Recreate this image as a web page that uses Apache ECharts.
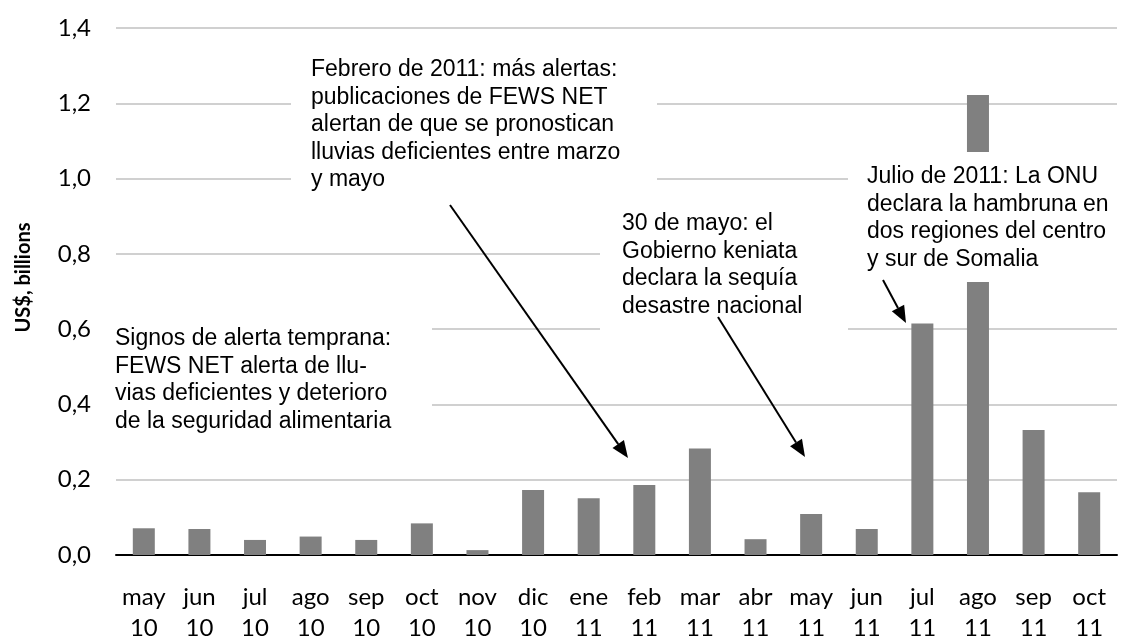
<!DOCTYPE html>
<html>
<head>
<meta charset="utf-8">
<script src="https://cdn.jsdelivr.net/npm/echarts@6/dist/echarts.min.js"></script>
<style>
  html, body { margin: 0; padding: 0; background: #fff; }
  #chart { width: 1122px; height: 639px; }
</style>
</head>
<body>
<div id="chart"></div>
<script>
const months = ['may', 'jun', 'jul', 'ago', 'sep', 'oct', 'nov', 'dic', 'ene', 'feb', 'mar', 'abr', 'may', 'jun', 'jul', 'ago', 'sep', 'oct'];
const years = ['10', '10', '10', '10', '10', '10', '10', '10', '11', '11', '11', '11', '11', '11', '11', '11', '11', '11'];
const spending = [0.071, 0.069, 0.040, 0.049, 0.040, 0.084, 0.013, 0.173, 0.151, 0.186, 0.283, 0.042, 0.109, 0.069, 0.615, 1.222, 0.332, 0.167];
const yTicks = [0, 0.2, 0.4, 0.6, 0.8, 1.0, 1.2, 1.4];

const noteFeb = 'Febrero de 2011: más alertas:\npublicaciones de FEWS NET\nalertan de que se pronostican\nlluvias deficientes entre marzo\ny mayo';
const noteEarly = 'Signos de alerta temprana:\nFEWS NET alerta de llu-\nvias deficientes y deterioro\nde la seguridad alimentaria';
const noteMay = '30 de mayo: el\nGobierno keniata\ndeclara la sequía\ndesastre nacional';
const noteJul = 'Julio de 2011: La ONU\ndeclara la hambruna en\ndos regiones del centro\ny sur de Somalia';

const categories = months.map((m, i) => m + '\n' + years[i]);

const textFont = 'Liberation Sans';
const axisFont = 'Lato';

// white box behind an annotation, hides the gridlines under it
function box(x, y, w, h) {
  return {
    type: 'rect', z: 100,
    shape: { x: x, y: y, width: w, height: h },
    style: { fill: '#fff' }
  };
}

function note(x, y, text) {
  return {
    type: 'text', z: 102, x: x, y: y,
    style: {
      text: text, fill: '#000',
      fontFamily: textFont, fontSize: 23,
      lineHeight: 27.5, align: 'left', verticalAlign: 'top'
    }
  };
}

function arrow(x1, y1, x2, y2) {
  const a = Math.atan2(y2 - y1, x2 - x1);
  const len = 17, half = 7;
  const bx = x2 - len * Math.cos(a);
  const by = y2 - len * Math.sin(a);
  const p1 = [bx + half * Math.sin(a), by - half * Math.cos(a)];
  const p2 = [bx - half * Math.sin(a), by + half * Math.cos(a)];
  return [
    { type: 'line', z: 103, shape: { x1: x1, y1: y1, x2: bx, y2: by }, style: { stroke: '#000', lineWidth: 2 } },
    { type: 'polygon', z: 103, shape: { points: [[x2, y2], p1, p2] }, style: { fill: '#000' } }
  ];
}

const chart = echarts.init(document.getElementById('chart'), null, { renderer: 'canvas' });

const option = {
  animation: false,
  backgroundColor: '#fff',
  grid: { left: 116, right: 5, top: 28, bottom: 84, outerBoundsMode: 'none', containLabel: false },
  xAxis: {
    type: 'category',
    data: categories,
    axisTick: { show: false },
    axisLine: { lineStyle: { color: '#000', width: 2 } },
    axisLabel: {
      color: '#000', fontFamily: axisFont, fontSize: 24,
      lineHeight: 31, margin: 27, interval: 0
    }
  },
  yAxis: {
    type: 'value',
    min: 0,
    max: yTicks[yTicks.length - 1],
    interval: 0.2,
    name: 'US$, billions',
    nameLocation: 'middle',
    nameGap: 82,
    nameTextStyle: {
      color: '#000', fontFamily: axisFont, fontWeight: 'bold', fontSize: 20,
      padding: [0, 0, 0, 28]
    },
    axisLine: { show: false },
    axisTick: { show: false },
    splitLine: { lineStyle: { color: '#c0c0c0', width: 1.5 } },
    axisLabel: {
      color: '#000', fontFamily: axisFont, fontSize: 24, margin: 25,
      formatter: (v) => v.toFixed(1).replace('.', ',')
    }
  },
  series: [{
    type: 'bar',
    data: spending,
    barWidth: 22,
    itemStyle: { color: '#808080' }
  }],
  graphic: [
    box(291, 45, 366, 150),
    box(100, 300, 332, 140),
    box(600, 195, 248, 148),
    box(848, 152, 274, 130),
    note(311, 56, noteFeb),
    note(115, 325, noteEarly),
    note(622, 210, noteMay),
    note(867, 163, noteJul),
    ...arrow(450, 205, 628, 458),
    ...arrow(718, 317, 805, 457),
    ...arrow(883, 280, 906, 323)
  ]
};

chart.setOption(option);
</script>
</body>
</html>
